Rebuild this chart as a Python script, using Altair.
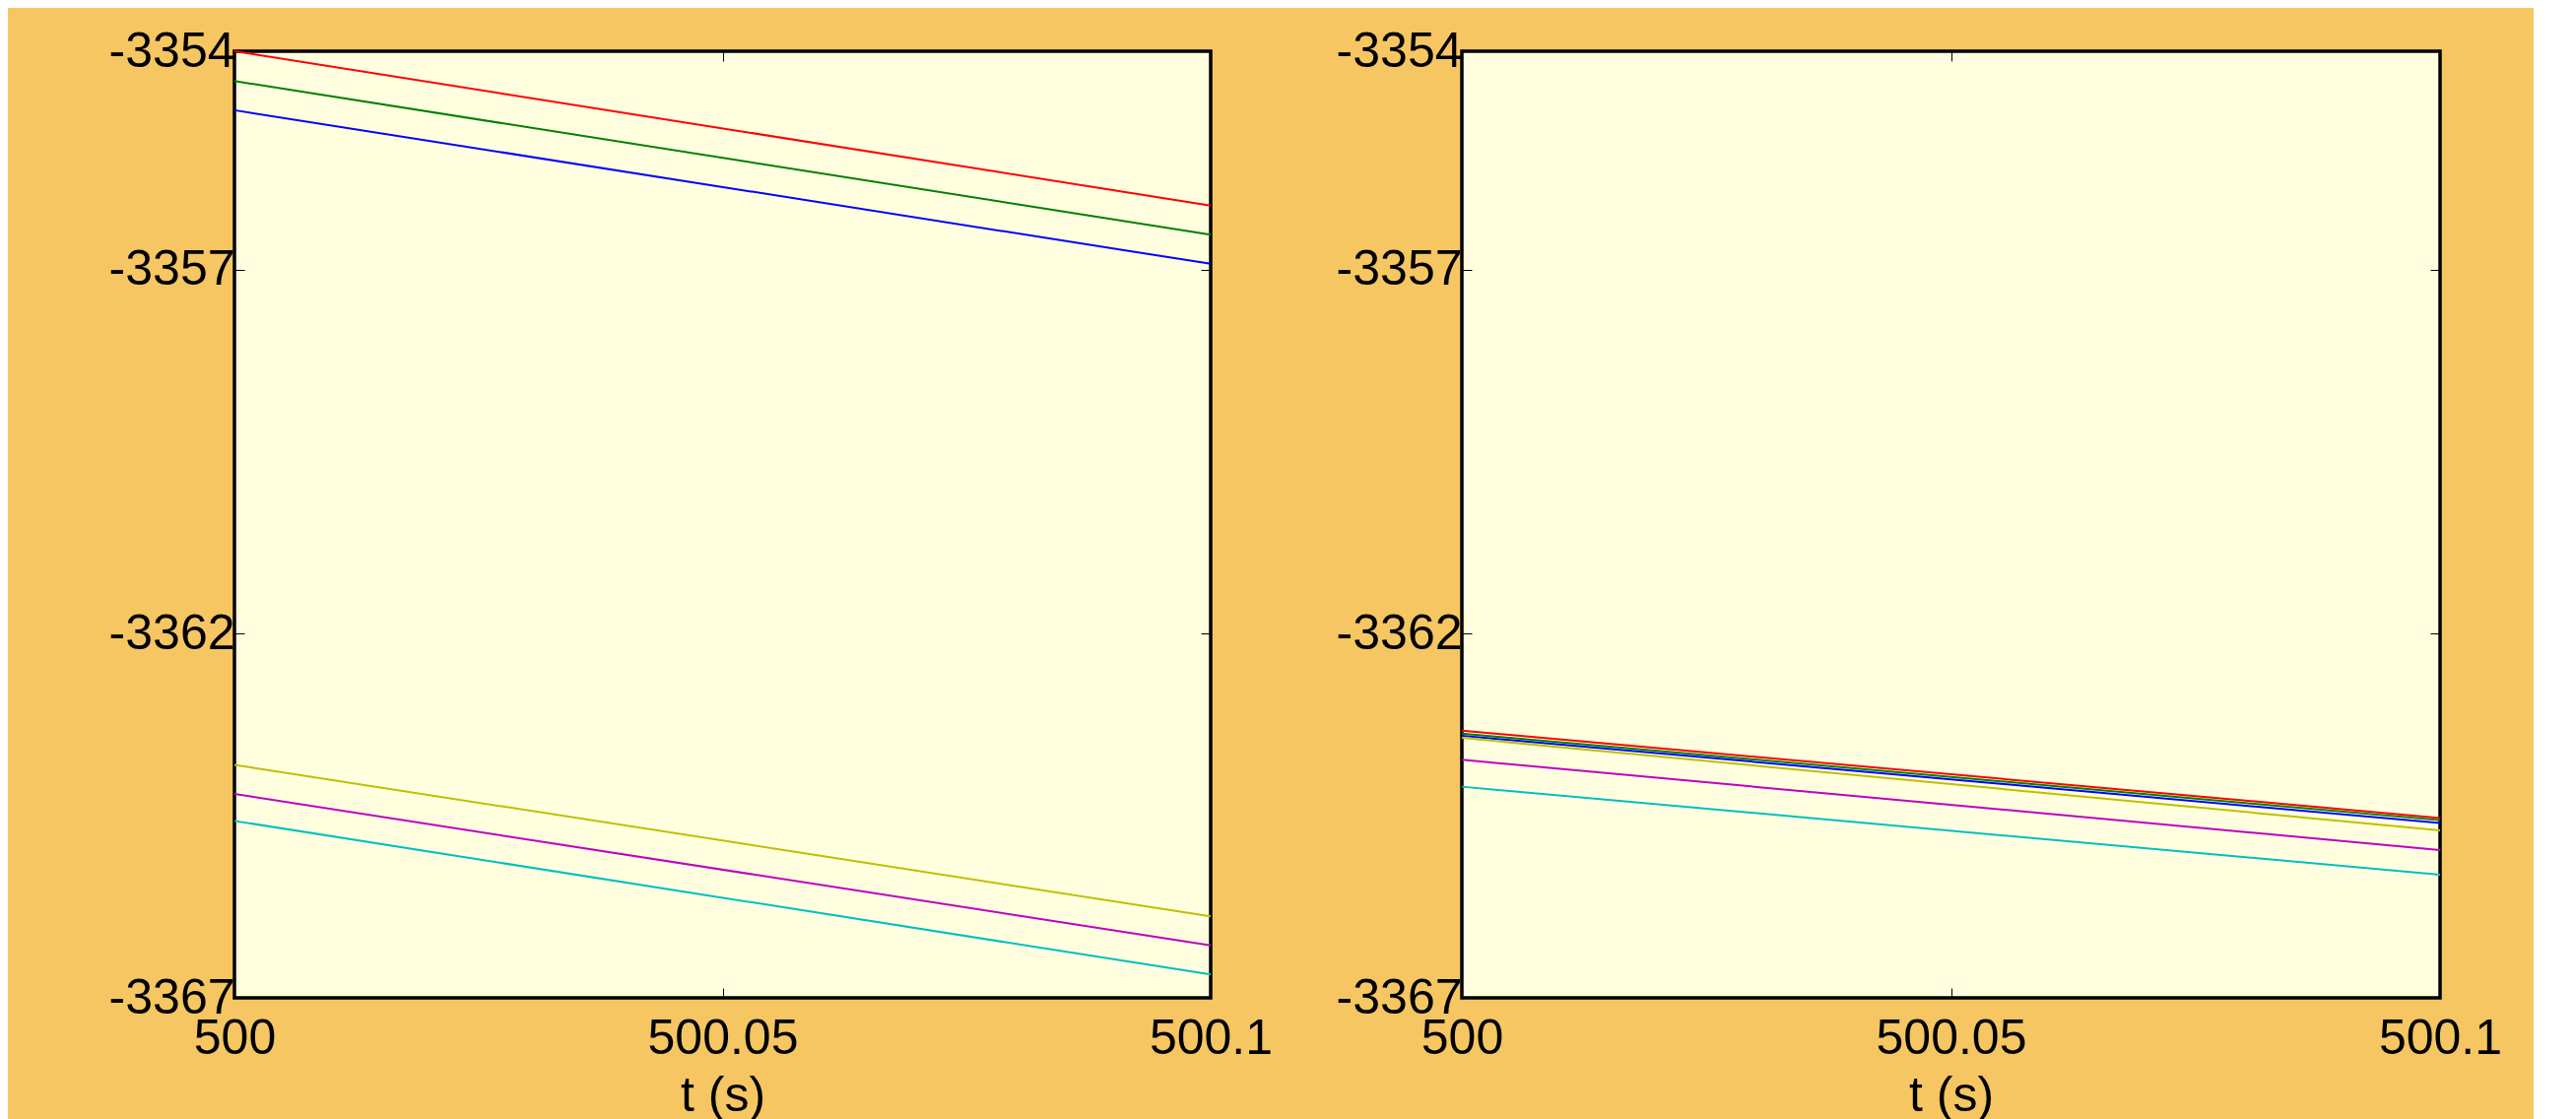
import altair as alt
import pandas as pd

# ---- data ----
series = ["r", "g", "b", "y", "m", "c"]
colors = ["#FF0000", "#008000", "#0000FF", "#BFBF00", "#BF00BF", "#00BFBF"]
t_points = [500.0, 500.1]

# left panel: value at t=500 and at t=500.1
left_start = [-3354.00, -3354.41, -3354.81, -3363.80, -3364.20, -3364.57]
left_end = [-3356.12, -3356.52, -3356.92, -3365.88, -3366.28, -3366.68]
# right panel
right_start = [-3363.33, -3363.37, -3363.40, -3363.43, -3363.73, -3364.10]
right_end = [-3364.53, -3364.56, -3364.60, -3364.70, -3364.97, -3365.31]

y_ticks = [-3354, -3357, -3362, -3367]
x_ticks = [500, 500.05, 500.1]
x_title = "t (s)"

FONT = "Liberation Sans"
FS = 50


def make_df(starts, ends):
    rows = []
    for s, a, b in zip(series, starts, ends):
        rows.append({"series": s, "t": t_points[0], "v": a})
        rows.append({"series": s, "t": t_points[1], "v": b})
    return pd.DataFrame(rows)


xscale = alt.Scale(domain=[500, 500.1], nice=False, zero=False)
yscale = alt.Scale(domain=[-3367, -3354], nice=False, zero=False)

bottom_axis = alt.Axis(
    orient="bottom", values=x_ticks, format="~g", grid=False, domain=False,
    ticks=True, tickSize=10, tickWidth=1, tickColor="black", offset=-10,
    labelFlush=False, labelOverlap=False, labelFont=FONT, labelFontSize=FS,
    labelColor="black", labelPadding=16, title=x_title, titleFont=FONT,
    titleFontSize=FS, titleFontWeight="normal", titleColor="black", titlePadding=8,
)
left_axis = alt.Axis(
    orient="left", values=y_ticks, labelExpr="toString(datum.value)", grid=False, domain=False,
    ticks=True, tickSize=10, tickWidth=1, tickColor="black", offset=-10,
    labelFlush=False, labelOverlap=False, labelFont=FONT, labelFontSize=FS,
    labelColor="black", labelPadding=0, labelBaseline="middle", title=None,
)
top_axis = alt.Axis(
    orient="top", values=x_ticks, grid=False, domain=False, labels=False,
    ticks=True, tickSize=10, tickWidth=1, tickColor="black", offset=-10, title=None,
)
right_axis = alt.Axis(
    orient="right", values=y_ticks, grid=False, domain=False, labels=False,
    ticks=True, tickSize=10, tickWidth=1, tickColor="black", offset=-10, title=None,
)


def panel(df, w):
    lines = alt.Chart(df).mark_line(strokeWidth=2).encode(
        x=alt.X("t:Q", scale=xscale, axis=bottom_axis),
        y=alt.Y("v:Q", scale=yscale, axis=left_axis),
        color=alt.Color("series:N", scale=alt.Scale(domain=series, range=colors), legend=None),
    )
    ghost = alt.Chart(df).mark_line(strokeOpacity=0).encode(
        x=alt.X("t:Q", scale=xscale, axis=top_axis),
        y=alt.Y("v:Q", scale=yscale, axis=right_axis),
        detail="series:N",
    )
    return alt.layer(lines, ghost).resolve_axis(x="independent", y="independent").properties(
        width=w, height=961
    )


left = panel(make_df(left_start, left_end), 991)
right = panel(make_df(right_start, right_end), 993)

chart = alt.hconcat(left, right, spacing=255, bounds="flush").properties(
    background="#F5C662",
    padding={"left": 100, "top": 17, "right": 30, "bottom": 0},
).configure_view(
    stroke="black", strokeWidth=3.5, fill="#FFFFE0"
)

chart.save("out.html", embed_options={"renderer": "svg", "actions": False})
